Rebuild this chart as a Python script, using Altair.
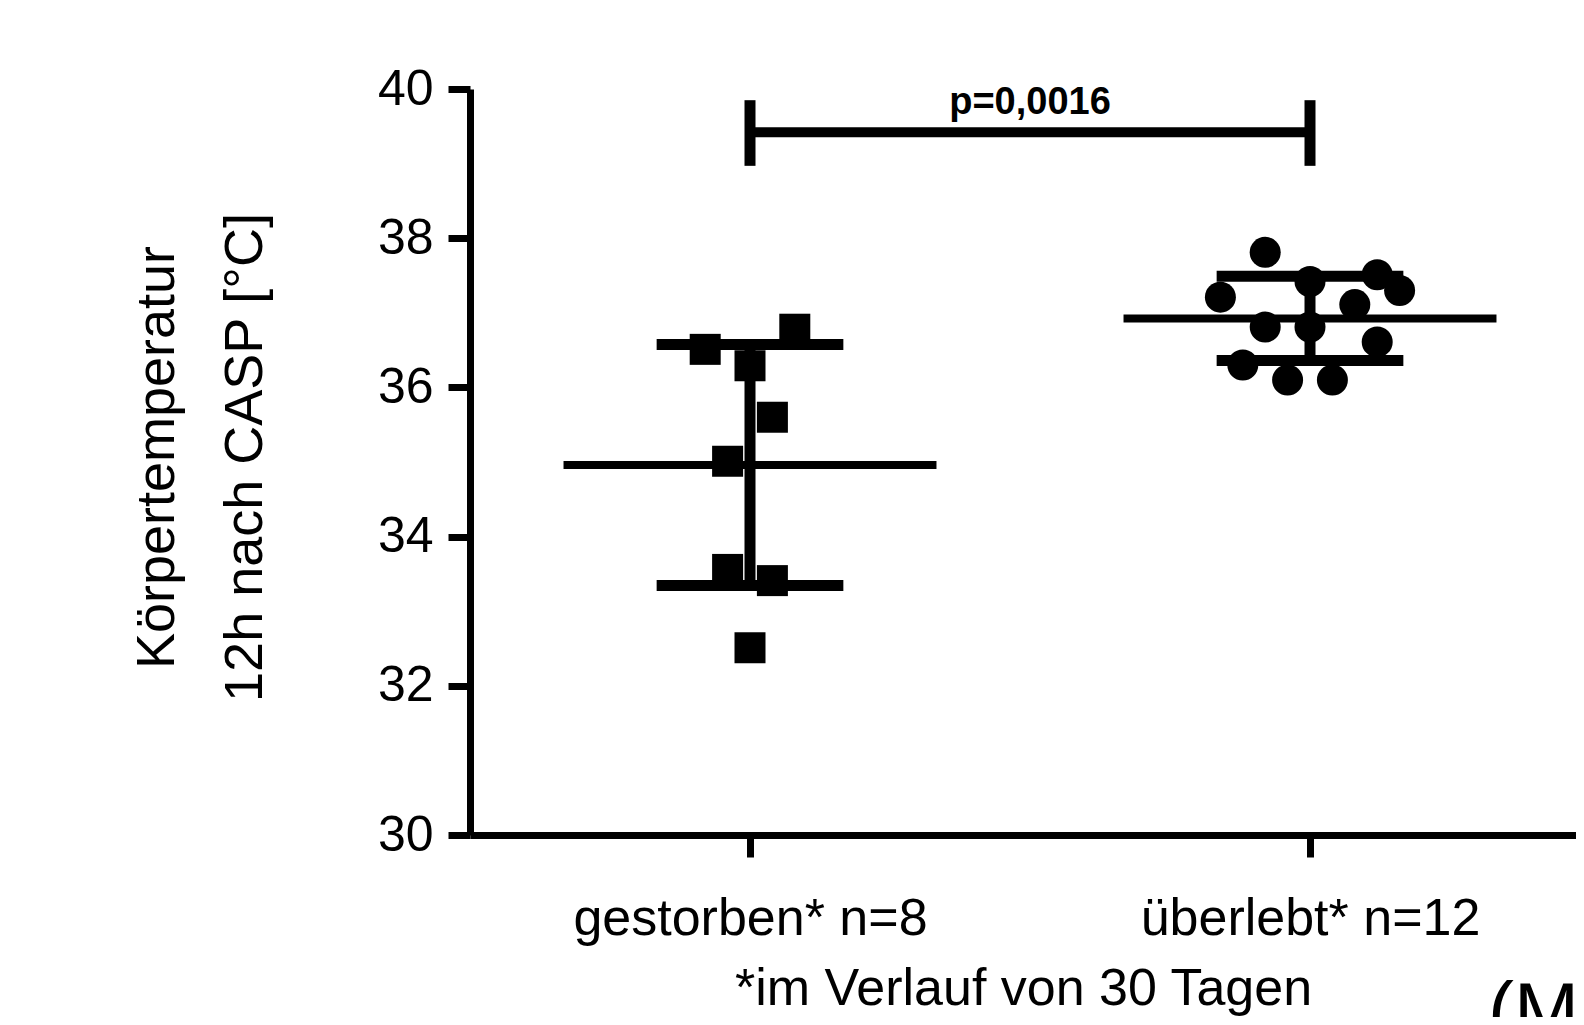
import altair as alt
import pandas as pd

# ---- data ----
groups = ["gestorben", "überlebt"]
group_labels = ["gestorben* n=8", "überlebt* n=12"]
gestorben_temp = [36.51, 36.78, 36.29, 35.60, 35.01, 33.56, 33.41, 32.51]
gestorben_col = [-2, 2, 0, 1, -1, -1, 1, 0]
ueberlebt_temp = [37.81, 37.21, 37.42, 37.51, 37.30, 37.11, 36.81, 36.81, 36.61, 36.30, 36.10, 36.10]
ueberlebt_col = [-2, -4, 0, 3, 4, 2, -2, 0, 3, -3, -1, 1]
y_ticks = [30, 32, 34, 36, 38, 40]
y_title = ["Körpertemperatur", "12h nach CASP [°C]"]
x_title = "*im Verlauf von 30 Tagen"
p_text = ["p=0,0016"]
bracket_level = [39.42]
bracket_ends = [38.97, 39.85]
p_level = [39.66]
cut_text = ["(M"]

rows = []
for t, c in zip(gestorben_temp, gestorben_col):
    rows.append({"group": groups[0], "idx": 1, "temp": t, "col": c})
for t, c in zip(ueberlebt_temp, ueberlebt_col):
    rows.append({"group": groups[1], "idx": 2, "temp": t, "col": c})
df = pd.DataFrame(rows)

COL_STEP = 0.04
MEAN_HALF = 0.333
CAP_HALF = 0.1667
FONT = "Liberation Sans"

PLOT_W = 1106
xscale = alt.Scale(domain=[0.5, 0.5 + PLOT_W / 560.0], nice=False, zero=False)
yscale = alt.Scale(domain=[30, 40], nice=False, zero=False)

label_expr = f"datum.value == 1 ? '{group_labels[0]}' : '{group_labels[1]}'"

x_axis = alt.Axis(
    values=[1, 2], labelExpr=label_expr, title=x_title,
    tickSize=22, labelPadding=36, labelFontSize=52, titleFontSize=52,
    titleY=169, titleBaseline="alphabetic", titleFontWeight="normal",
    labelAngle=0, labelAlign="center", labelOverlap=False, labelFlush=False,
    labelLimit=2000,
)
y_axis = alt.Axis(
    values=y_ticks, title=y_title, tickSize=22, labelPadding=15,
    labelFontSize=50, titleFontSize=54, titleAngle=270, titleX=-340,
    titleY=368, titleBaseline="top", titleAlign="center", titleLineHeight=88,
    titleFontWeight="normal", labelOverlap=False, titleLimit=2000,
)

points = alt.Chart(df).transform_calculate(
    xpos=f"datum.idx + datum.col * {COL_STEP}"
).mark_point(filled=True, opacity=1, size=961, color="black").encode(
    x=alt.X("xpos:Q", scale=xscale, axis=x_axis),
    y=alt.Y("temp:Q", scale=yscale, axis=y_axis),
    shape=alt.Shape("group:N", scale=alt.Scale(domain=groups, range=["square", "circle"]), legend=None),
)

stats = alt.Chart(df).transform_aggregate(
    m="mean(temp)", sd="stdev(temp)", groupby=["idx"]
).transform_calculate(
    lo="datum.m - datum.sd",
    hi="datum.m + datum.sd",
    ml=f"datum.idx - {MEAN_HALF}",
    mr=f"datum.idx + {MEAN_HALF}",
    cl=f"datum.idx - {CAP_HALF}",
    cr=f"datum.idx + {CAP_HALF}",
)

mean_rule = stats.mark_rule(color="black", strokeWidth=8).encode(
    x=alt.X("ml:Q", scale=xscale, axis=x_axis), x2="mr:Q",
    y=alt.Y("m:Q", scale=yscale, axis=y_axis),
)
vbar = stats.mark_rule(color="black", strokeWidth=11).encode(
    x=alt.X("idx:Q", scale=xscale, axis=x_axis),
    y=alt.Y("lo:Q", scale=yscale, axis=y_axis), y2="hi:Q",
)
cap_lo = stats.mark_rule(color="black", strokeWidth=11).encode(
    x=alt.X("cl:Q", scale=xscale, axis=x_axis), x2="cr:Q",
    y=alt.Y("lo:Q", scale=yscale, axis=y_axis),
)
cap_hi = stats.mark_rule(color="black", strokeWidth=11).encode(
    x=alt.X("cl:Q", scale=xscale, axis=x_axis), x2="cr:Q",
    y=alt.Y("hi:Q", scale=yscale, axis=y_axis),
)

bh_df = pd.DataFrame({"x1": [1], "x2": [2], "y": bracket_level})
bracket_h = alt.Chart(bh_df).mark_rule(color="black", strokeWidth=10).encode(
    x=alt.X("x1:Q", scale=xscale, axis=x_axis), x2="x2:Q",
    y=alt.Y("y:Q", scale=yscale, axis=y_axis),
)
bv_df = pd.DataFrame({"x": [1, 2], "y1": [bracket_ends[0]] * 2, "y2": [bracket_ends[1]] * 2})
bracket_v = alt.Chart(bv_df).mark_rule(color="black", strokeWidth=11).encode(
    x=alt.X("x:Q", scale=xscale, axis=x_axis),
    y=alt.Y("y1:Q", scale=yscale, axis=y_axis), y2="y2:Q",
)
pt_df = pd.DataFrame({"x": [1.5], "y": p_level, "t": p_text})
ptext = alt.Chart(pt_df).mark_text(
    font=FONT, fontSize=38, fontWeight="bold", baseline="alphabetic", align="center", color="black"
).encode(
    x=alt.X("x:Q", scale=xscale, axis=x_axis),
    y=alt.Y("y:Q", scale=yscale, axis=y_axis),
    text="t:N",
)
cut_df = pd.DataFrame({"t": cut_text})
cut = alt.Chart(cut_df).mark_text(
    font=FONT, fontSize=78, baseline="alphabetic", align="left", color="black"
).encode(x=alt.value(1018), y=alt.value(948), text="t:N")

chart = alt.layer(
    mean_rule, vbar, cap_lo, cap_hi, points, bracket_h, bracket_v, ptext, cut
).properties(
    width=PLOT_W, height=746,
    padding={"left": 462, "top": 81, "right": 0, "bottom": 182},
    autosize=alt.AutoSizeParams(type="none"),
    background="white",
).configure_view(stroke=None).configure_axis(
    domainColor="black", domainWidth=7, tickColor="black", tickWidth=7,
    labelColor="black", titleColor="black", labelFont=FONT, titleFont=FONT,
    grid=False,
)

chart.save("out.html", embed_options={"renderer": "svg", "actions": False})
